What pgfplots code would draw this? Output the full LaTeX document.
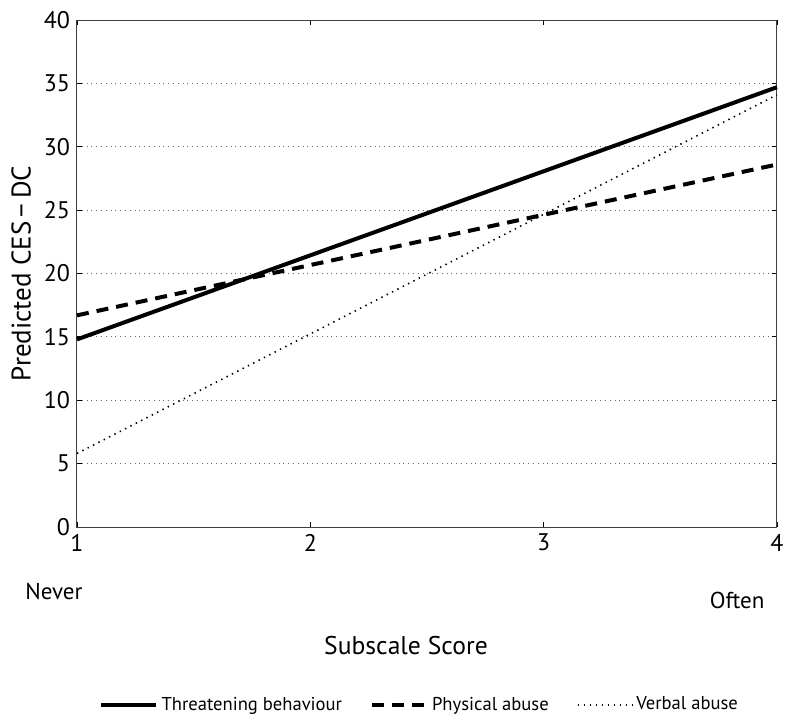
\documentclass[border=0pt]{standalone}
\usepackage{pgfplots}
\pgfplotsset{compat=1.18}
\usepackage{fontspec}
\setmainfont{PT Sans}
\begin{document}
\begin{tikzpicture}
\path[use as bounding box] (-38.5pt,-96.5pt) rectangle (361.5pt,263.5pt);
\begin{axis}[
  at={(0pt,0pt)}, anchor=south west,
  scale only axis, width=350pt, height=253.5pt,
  xmin=1, xmax=4, ymin=0, ymax=40,
  xtick={1,2,3,4}, ytick={0,5,...,40},
  tick align=inside, major tick length=2.5pt,
  tick style={black, line width=0.4pt},
  axis line style={black!75, line width=0.5pt},
  ymajorgrids, grid style={black!60, dotted, line width=0.5pt},
  ticklabel style={font=\fontsize{12}{14}\selectfont},
  xticklabel style={yshift=0pt},
  /pgf/number format/assume math mode=true,
  ylabel={Predicted CES\,\textminus\,DC},
  ylabel style={font=\fontsize{13.5}{15}\selectfont, yshift=-0.5pt},
  clip=false,
  legend columns=3,
  legend style={draw=none, fill=none, at={(rel axis cs:0.491,-0.351)}, anchor=center,
    font=\fontsize{9.3}{11}\selectfont,
    /tikz/every even column/.append style={column sep=12pt}},
  legend image code/.code={\draw[#1] (0cm,0cm) -- (0.95cm,0cm);},
]
\addplot[black, line width=2pt] coordinates {(1,14.8) (4,34.7)};
\addlegendentry{Threatening behaviour}
\addplot[black, line width=2pt, dash pattern=on 6pt off 4pt] coordinates {(1,16.7) (4,28.6)};
\addlegendentry{Physical abuse}
\addplot[black, line width=0.8pt, dash pattern=on 0.7pt off 2.3pt] coordinates {(1,5.8) (4,34.1)};
\addlegendentry{Verbal abuse}
\node[font=\fontsize{11.5}{13}\selectfont] at (rel axis cs:-0.033,-0.128) {Never};
\node[font=\fontsize{11.5}{13}\selectfont] at (rel axis cs:0.943,-0.144) {Often};
\node[font=\fontsize{12.8}{15}\selectfont] at (rel axis cs:0.47,-0.233) {Subscale Score};
\end{axis}
\end{tikzpicture}
\end{document}
